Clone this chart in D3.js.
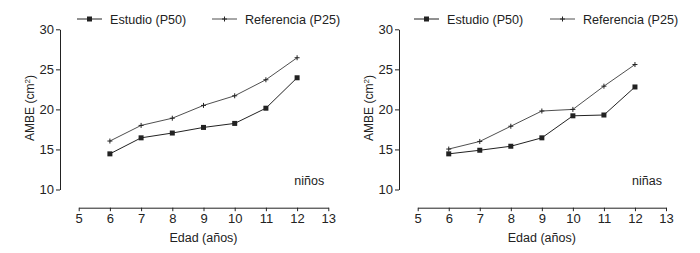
<!DOCTYPE html>
<html>
<head>
<meta charset="utf-8">
<script src="https://cdn.jsdelivr.net/npm/d3@7"></script>
<style>
  body { margin: 0; background: #fff; }
  text { font-family: "Liberation Sans", Arial, sans-serif; fill: #222; }
</style>
</head>
<body>
<div id="chart"></div>
<script>
/* AMBE por edad: estudio vs referencia, niños y niñas */

const ages = [6, 7, 8, 9, 10, 11, 12];
const xTicks = [5, 6, 7, 8, 9, 10, 11, 12, 13];
const yTicks = [10, 15, 20, 25, 30];

const ninosEstudio = [14.45, 16.45, 17.05, 17.75, 18.25, 20.15, 23.95];
const ninosReferencia = [16.05, 18.0, 18.9, 20.5, 21.7, 23.7, 26.45];
const ninasEstudio = [14.45, 14.9, 15.4, 16.45, 19.2, 19.3, 22.8];
const ninasReferencia = [15.05, 16.0, 17.9, 19.8, 20.0, 22.9, 25.6];

const seriesNames = ["Estudio (P50)", "Referencia (P25)"];

const width = 700, height = 253;

let svg = d3.select("#chart")
    .append("svg")
    .attr("width", width)
    .attr("height", height);

const panels = [
    { label: "niños", est: ninosEstudio, ref: ninosReferencia,
      axisX: 60, x0: 78.7, x1: 328.3, legend: [77, 212] },
    { label: "niñas", est: ninasEstudio, ref: ninasReferencia,
      axisX: 399, x0: 417.7, x1: 666, legend: [414, 550] }
];

const y = d3.scaleLinear()
    .domain([10, 30])
    .range([189.5, 29.3]);

const xAxisY = 207.7;
const ink = "#222";

// small marker helpers
function square(g, cx, cy) {
    g.append("rect")
        .attr("x", cx - 2.5).attr("y", cy - 2.5)
        .attr("width", 5).attr("height", 5)
        .attr("fill", ink);
}
function plus(g, cx, cy) {
    g.append("path")
        .attr("d", `M${cx - 2.5},${cy}H${cx + 2.5}M${cx},${cy - 2.5}V${cy + 2.5}`)
        .attr("stroke", ink)
        .attr("stroke-width", 1);
}

for (let p of panels) {
    let x = d3.scaleLinear()
        .domain([5, 13])
        .range([p.x0, p.x1]);

    let g = svg.append("g");

    // y axis
    g.append("g")
        .attr("transform", `translate(${p.axisX},0)`)
        .call(d3.axisLeft(y).tickValues(yTicks).tickSize(4).tickSizeOuter(0).tickPadding(2))
        .call(a => a.selectAll("path, line").attr("stroke", ink))
        .call(a => a.selectAll("text").attr("font-size", 13).attr("font-family", "Liberation Sans, Arial, sans-serif").attr("fill", ink));

    // x axis
    g.append("g")
        .attr("transform", `translate(0,${xAxisY})`)
        .call(d3.axisBottom(x).tickValues(xTicks).tickSize(3.5).tickSizeOuter(0).tickPadding(3))
        .call(a => a.selectAll("path, line").attr("stroke", ink))
        .call(a => a.selectAll("text").attr("font-size", 13).attr("font-family", "Liberation Sans, Arial, sans-serif").attr("fill", ink));

    // axis titles
    g.append("text")
        .attr("x", (p.x0 + p.x1) / 2)
        .attr("y", 242)
        .attr("text-anchor", "middle")
        .attr("font-size", 12.5)
        .text("Edad (años)");

    g.append("text")
        .attr("transform", `translate(${p.axisX - 26},108) rotate(-90)`)
        .attr("text-anchor", "middle")
        .attr("font-size", 12)
        .html("AMBE (cm<tspan baseline-shift='super' font-size='8'>2</tspan>)");

    // panel label
    g.append("text")
        .attr("x", x(12.87))
        .attr("y", 185)
        .attr("text-anchor", "end")
        .attr("font-size", 12.5)
        .text(p.label);

    const line = d3.line()
        .x(d => x(d[0]))
        .y(d => y(d[1]));

    // referencia
    g.append("path")
        .datum(ages.map((a, i) => [a, p.ref[i]]))
        .attr("d", line)
        .attr("fill", "none")
        .attr("stroke", ink)
        .attr("stroke-width", 0.8);
    ages.forEach((a, i) => plus(g, x(a), y(p.ref[i])));

    // estudio
    g.append("path")
        .datum(ages.map((a, i) => [a, p.est[i]]))
        .attr("d", line)
        .attr("fill", "none")
        .attr("stroke", ink)
        .attr("stroke-width", 1);
    ages.forEach((a, i) => square(g, x(a), y(p.est[i])));

    // legend
    p.legend.forEach((lx, i) => {
        g.append("line")
            .attr("x1", lx).attr("x2", lx + 25)
            .attr("y1", 19).attr("y2", 19)
            .attr("stroke", ink)
            .attr("stroke-width", i == 0 ? 1 : 0.8);
        if (i == 0) square(g, lx + 12.5, 19);
        else plus(g, lx + 12.5, 19);
        g.append("text")
            .attr("x", lx + 33)
            .attr("y", 23.5)
            .attr("font-size", 12.6)
            .text(seriesNames[i]);
    });
}
</script>
</body>
</html>
